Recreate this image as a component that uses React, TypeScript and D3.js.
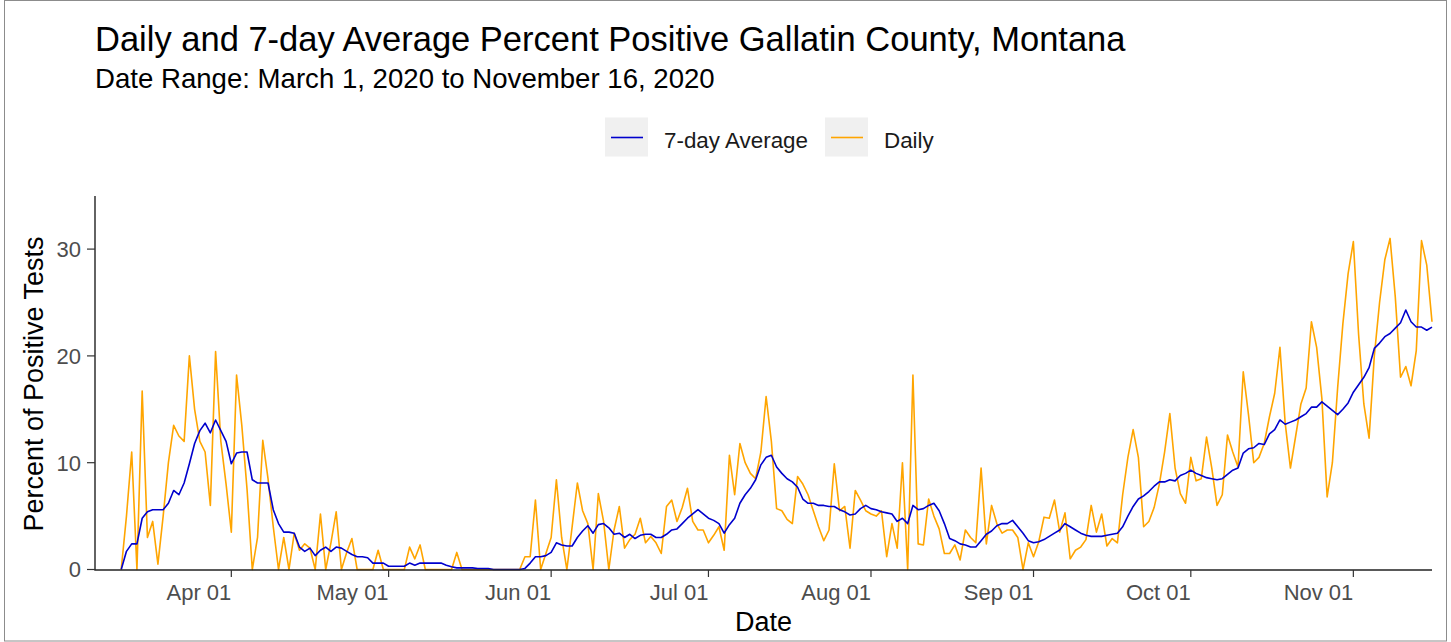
import React, { FC, useMemo } from 'react'
import * as d3 from 'd3'

// first date with data, one value per day after it
const startDate = new Date(2020, 2, 11)

// daily percent positive, read per month
const dailyMar = [0, 5, 11, 0, 16.7, 3, 4.5, 0.5, 5, 10, 13.5, 12.5, 12, 20, 15, 12, 11, 6, 20.4, 12, 8]
const dailyApr = [3.5, 18.2, 13.5, 7.5, 0, 3, 12.1, 8.5, 4, 0, 3, 0, 3.4, 1.8, 2.4, 2, 0, 5.2, 0, 2.5, 5.4, 0, 1.6, 2.9, 0, 0, 0, 0, 1.8, 0]
const dailyMay = [0, 0, 0, 0, 2.1, 1, 2.3, 0, 0, 0, 0, 0, 0, 1.6, 0, 0, 0, 0, 0, 0, 0, 0, 0, 0, 0, 0, 1.2, 1.2, 6.5, 0, 1.5]
const dailyJun = [3, 8.4, 3, 0, 4, 8.1, 5.5, 4.3, 0, 7.1, 4.5, 0, 3.7, 5.9, 2, 2.8, 3.3, 4.8, 2.5, 3.1, 2.5, 1.5, 5.9, 6.5, 4.5, 5.8, 7.6, 4.5, 3.7, 3.7]
const dailyJul = [2.5, 3.2, 4, 1.8, 10.7, 7, 11.8, 10, 9, 8.5, 11, 16.2, 12, 5.7, 5.5, 4.7, 4.3, 8.7, 8, 7, 5.5, 4, 2.7, 3.7, 9.9, 5.5, 5.9, 2, 7.4, 6.5, 5.5]
const dailyAug = [5.2, 5, 5.5, 1.2, 4.3, 2, 10, 0, 18.2, 2.4, 2.3, 6.6, 5, 3.8, 1.5, 1.5, 2.3, 0.9, 3.7, 3, 2.5, 9.5, 2.4, 6, 4.3, 3.4, 3.7, 3.7, 3, 0, 2.5]
const dailySep = [1.2, 2.6, 4.9, 4.8, 6.5, 3.5, 5.3, 1, 1.8, 2.1, 2.8, 6, 3.5, 5.2, 2.2, 2.9, 2.5, 7, 10.5, 13.1, 10.5, 4, 4.5, 5.8, 8, 11, 14.6, 9.5, 7.1, 6.2]
const dailyOct = [10.5, 8.3, 8.5, 12.4, 9.5, 6, 7, 12.6, 11, 9.6, 18.5, 14.5, 10, 10.5, 11.8, 14.3, 16.5, 20.8, 13.7, 9.5, 12.5, 15.5, 17, 23.2, 20.8, 16, 6.8, 10, 17, 23, 27.7]
const dailyNov = [30.7, 22, 15.5, 12.3, 20, 25, 29, 31, 25.5, 18, 19, 17.2, 20.5, 30.8, 28.5, 23.2]

// 7-day average, read per month
const avgMar = [0, 1.7, 2.4, 2.4, 4.8, 5.4, 5.6, 5.6, 5.6, 6.2, 7.4, 7, 8.1, 9.9, 11.8, 13, 13.7, 12.8, 14, 13, 12]
const avgApr = [9.9, 10.9, 11, 11, 8.4, 8.1, 8.1, 8.1, 5.6, 4.3, 3.5, 3.5, 3.4, 2.1, 1.7, 2, 1.3, 1.8, 2.1, 1.7, 2.1, 2, 1.7, 1.4, 1.2, 1.2, 1.1, 0.6, 0.6, 0.6]
const avgMay = [0.3, 0.3, 0.3, 0.3, 0.6, 0.4, 0.6, 0.6, 0.6, 0.6, 0.6, 0.4, 0.25, 0.15, 0.15, 0.15, 0.15, 0.1, 0.1, 0.1, 0, 0, 0, 0, 0, 0, 0.1, 0.6, 1.2, 1.2, 1.3]
const avgJun = [1.6, 2.5, 2.3, 2.2, 2.2, 3, 3.6, 4.1, 3.4, 4.2, 4.3, 3.9, 3.3, 3.4, 3, 3.3, 2.9, 3.2, 3.3, 3.3, 3, 3, 3.3, 3.7, 3.8, 4.3, 4.8, 5.2, 5.6, 5.2]
const avgJul = [4.8, 4.6, 4.3, 3.4, 4.2, 4.8, 6.2, 7, 7.6, 8.4, 9.8, 10.5, 10.7, 9.6, 9, 8.5, 8.2, 7.7, 6.6, 6.2, 6.2, 6, 6, 5.9, 5.9, 5.6, 5.4, 5.1, 5.2, 5.7, 6]
const avgAug = [5.7, 5.6, 5.4, 5.3, 5.2, 4.5, 4.8, 4.3, 6, 5.6, 5.7, 6, 6.2, 5.5, 4.3, 2.9, 2.7, 2.4, 2.3, 2.1, 2.1, 2.7, 3.3, 3.6, 4.1, 4.3, 4.3, 4.6, 4, 3.4, 2.7]
const avgSep = [2.5, 2.6, 2.8, 3.1, 3.4, 3.7, 4.3, 4, 3.7, 3.4, 3.2, 3.1, 3.1, 3.1, 3.2, 3.3, 3.4, 4, 5, 5.9, 6.6, 6.9, 7.3, 7.8, 8.2, 8.2, 8.4, 8.3, 8.8, 9]
const avgOct = [9.3, 9, 8.8, 8.6, 8.5, 8.4, 8.5, 8.9, 9.3, 9.5, 10.9, 11.3, 11.4, 11.8, 11.7, 12.7, 13.1, 14, 13.6, 13.8, 14, 14.3, 14.6, 15.2, 15.2, 15.7, 15.3, 14.9, 14.5, 15, 15.6]
const avgNov = [16.6, 17.3, 18, 18.9, 20.7, 21.2, 21.8, 22.1, 22.6, 23.1, 24.3, 23.2, 22.7, 22.7, 22.4, 22.7]

const yTicks = [0, 10, 20, 30]
const seriesNames = ['7-day Average', 'Daily']
const seriesColors = ['#0000CD', '#FFA500']

const daily = [...dailyMar, ...dailyApr, ...dailyMay, ...dailyJun, ...dailyJul, ...dailyAug, ...dailySep, ...dailyOct, ...dailyNov]
const avg = [...avgMar, ...avgApr, ...avgMay, ...avgJun, ...avgJul, ...avgAug, ...avgSep, ...avgOct, ...avgNov]

const W = 1451
const H = 642
const font = '"Liberation Sans", Arial, sans-serif'

interface IPoint {
	date: Date
	value: number
}

const App: FC = () => {
	const x = useMemo(() => {
		return d3
			.scaleTime()
			.domain([new Date(2020, 2, 6), new Date(2020, 10, 16)])
			.range([95, 1432])
	}, [])

	const y = useMemo(() => {
		return d3.scaleLinear().domain([0, 35]).range([569.5, 195.7])
	}, [])

	const toPoints = (vals: number[]): IPoint[] =>
		vals.map((v, i) => ({ date: d3.timeDay.offset(startDate, i), value: v }))

	const line = d3
		.line<IPoint>()
		.x((d) => x(d.date))
		.y((d) => y(d.value))

	const xTicks = x.ticks(d3.timeMonth.every(1)!)
	const fmt = d3.timeFormat('%b %d')

	return (
		<svg width={W} height={H} style={{ position: 'absolute', left: 0, top: 0, background: '#fff' }} fontFamily={font}>
			<rect x={4.5} y={0.5} width={1442} height={640.5} fill="#fff" stroke="#8c8c8c" strokeWidth={1} />

			{/* titles */}
			<text x={95} y={51} fontSize={34.5} fill="#000">
				Daily and 7-day Average Percent Positive Gallatin County, Montana
			</text>
			<text x={95} y={87.5} fontSize={27.6} fill="#000">
				Date Range: March 1, 2020 to November 16, 2020
			</text>

			{/* legend */}
			{seriesNames.map((name, i) => {
				const bx = i === 0 ? 605 : 825
				return (
					<g key={name}>
						<rect x={bx} y={117.5} width={43} height={39} fill="#f0f0f0" />
						<line x1={bx + 6} x2={bx + 38} y1={137.5} y2={137.5} stroke={seriesColors[i]} strokeWidth={1.6} />
						<text x={bx + 59} y={147.5} fontSize={22.4} fill="#1a1a1a">
							{name}
						</text>
					</g>
				)
			})}

			{/* data */}
			<path d={line(toPoints(daily)) || ''} fill="none" stroke={seriesColors[1]} strokeWidth={1.6} strokeLinejoin="round" />
			<path d={line(toPoints(avg)) || ''} fill="none" stroke={seriesColors[0]} strokeWidth={1.6} strokeLinejoin="round" />

			{/* axes */}
			<line x1={95} x2={95} y1={196} y2={570} stroke="#222" strokeWidth={1.4} />
			<line x1={94.3} x2={1432} y1={570} y2={570} stroke="#222" strokeWidth={1.4} />
			{yTicks.map((t) => (
				<g key={t}>
					<line x1={87} x2={95} y1={y(t)} y2={y(t)} stroke="#333" strokeWidth={1.2} />
					<text x={81} y={y(t)} dy="0.36em" textAnchor="end" fontSize={22} fill="#4d4d4d">
						{t}
					</text>
				</g>
			))}
			{xTicks.map((t) => (
				<g key={t.getTime()}>
					<line x1={x(t)} x2={x(t)} y1={570} y2={577} stroke="#333" strokeWidth={1.2} />
					<text x={x(t)} y={600} textAnchor="end" fontSize={22} fill="#4d4d4d">
						{fmt(t)}
					</text>
				</g>
			))}
			<text x={763.5} y={631} textAnchor="middle" fontSize={27} fill="#000">
				Date
			</text>
			<text transform="translate(43, 384) rotate(-90)" textAnchor="middle" fontSize={27} fill="#000">
				Percent of Positive Tests
			</text>
		</svg>
	)
}

export default App
